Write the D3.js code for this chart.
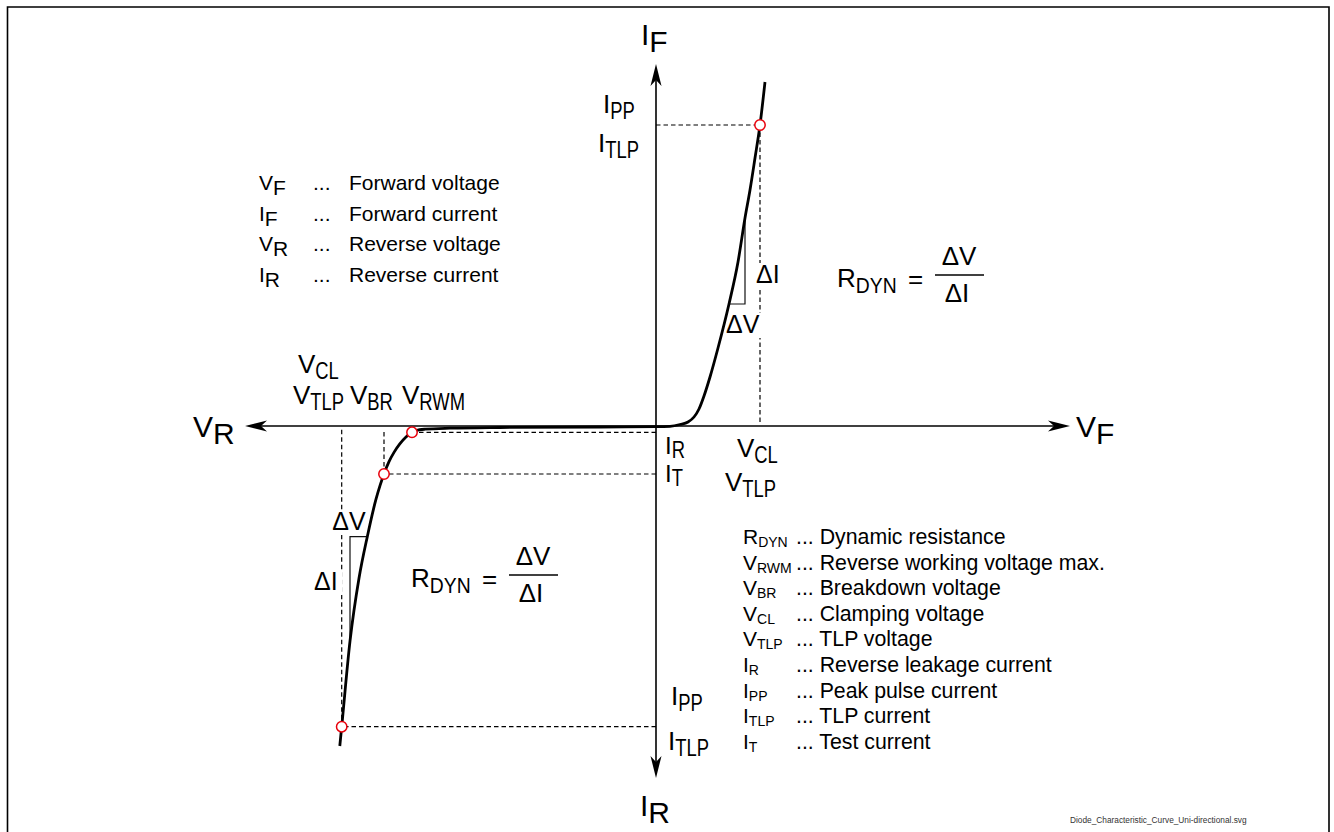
<!DOCTYPE html>
<html><head><meta charset="utf-8">
<script src="https://cdn.jsdelivr.net/npm/d3@7"></script>
<style>html,body{margin:0;padding:0;background:#fff;} svg{display:block;font-family:"Liberation Sans",Arial,Helvetica,sans-serif;}</style>
</head><body><svg id="chart" width="1334" height="832"></svg>
<script>
// ---------- data ----------
const axisV = [-41.1, 41.4];      // voltage axis extent (VR .. VF)
const axisI = [-35.2, 36.2];      // current axis extent (IR .. IF)
const curveV = [-31.62,-31.43,-30.6,-29.7,-28.87,-28.0,-27.6,-27.2,-26.7,-26.2,-25.6,-25.0,-24.4,-24.0,-23.1,-20.6,-15.6,-5.6,0,1.4,2.4,3.2,3.8,4.3,4.8,5.4,6.2,7.3,8.2,8.9,9.4,9.9,10.4,10.9];
const curveI = [-32.0,-30.07,-21.52,-15.22,-11.07,-7.32,-5.96,-4.8,-3.57,-2.64,-1.77,-1.11,-0.63,-0.45,-0.32,-0.22,-0.15,-0.1,-0.07,-0.03,0.15,0.4,0.9,1.7,3.0,4.9,7.8,12.2,16.4,20.8,23.6,26.8,30.1,34.4];
const markerNames = ["IPP/VCL fwd","VRWM","VBR","VCL"];
const markerV = [10.4, -24.4, -27.2, -31.43];
const markerI = [30.1, -0.63, -4.8, -30.07];
const markerVGuide = [true, false, true, true];
const triFwdV = [7.3, 8.9], triFwdI = [12.2, 20.8];
const triRevV = [-28.87, -30.6], triRevI = [-11.07, -21.52];
const legend1Sym = ["V","I","V","I"];
const legend1Sub = ["F","F","R","R"];
const legend1Text = ["Forward voltage","Forward current","Reverse voltage","Reverse current"];
const legend2Sym = ["R","V","V","V","V","I","I","I","I"];
const legend2Sub = ["DYN","RWM","BR","CL","TLP","R","PP","TLP","T"];
const legend2Text = ["Dynamic resistance","Reverse working voltage max.","Breakdown voltage","Clamping voltage","TLP voltage","Reverse leakage current","Peak pulse current","TLP current","Test current"];
const footer = "Diode_Characteristic_Curve_Uni-directional.svg";

// ---------- setup ----------
const svg = d3.select("#chart");
const x = d3.scaleLinear().domain(axisV).range([245, 1070]);
const y = d3.scaleLinear().domain(axisI).range([778, 64]);

// frame
svg.append("path").attr("d","M7.5,845 V7 H1329 V845").attr("fill","none").attr("stroke","#000").attr("stroke-width",1.6);

function sym(g, px, py, main, sub, o) {
  const t = g.append("text").attr("x", px).attr("y", py).attr("font-size", o.size).attr("fill","#000").text(main);
  const w = t.node().getComputedTextLength();
  g.append("text").attr("transform", `translate(${px + w + (o.gap||0)},${py + o.dy}) scale(${o.sx},1)`)
    .attr("font-size", o.subSize).attr("fill","#000").text(sub);
}

// ---------- dashed guides ----------
const guides = svg.append("g").attr("stroke","#000").attr("stroke-width",1.2).attr("stroke-dasharray","4.5,3").attr("fill","none");
markerV.forEach((v,i) => {
  guides.append("line").attr("x1", x(0)).attr("x2", x(v)).attr("y1", y(markerI[i])).attr("y2", y(markerI[i]));
  if (markerVGuide[i]) guides.append("line").attr("x1", x(v)).attr("x2", x(v)).attr("y1", y(markerI[i])).attr("y2", y(0) + (markerI[i] > 0 ? -3 : 3));
});

// ---------- axes ----------
const axes = svg.append("g");
axes.append("line").attr("x1", x(axisV[0])+4).attr("x2", x(axisV[1])-4).attr("y1", y(0)).attr("y2", y(0)).attr("stroke","#000").attr("stroke-width",1.6);
axes.append("line").attr("x1", x(0)).attr("x2", x(0)).attr("y1", y(axisI[0])-4).attr("y2", y(axisI[1])+4).attr("stroke","#000").attr("stroke-width",1.6);
function arrow(tx, ty, dx, dy) {
  const len = 22, hw = 5.5, notch = 16, px = -dy, py = dx;
  const bx = tx - dx*len, by = ty - dy*len;
  const pts = [[tx,ty],[bx+px*hw, by+py*hw],[tx-dx*notch, ty-dy*notch],[bx-px*hw, by-py*hw]];
  axes.append("path").attr("d", "M" + pts.map(p=>p.join(",")).join("L") + "Z").attr("fill","#000");
}
arrow(x(axisV[0]), y(0), -1, 0);
arrow(x(axisV[1]), y(0), 1, 0);
arrow(x(0), y(axisI[1]), 0, -1);
arrow(x(0), y(axisI[0]), 0, 1);

// ---------- triangles ----------
const tri = svg.append("g").attr("stroke","#111").attr("stroke-width",1.2).attr("fill","none");
[[triFwdV, triFwdI],[triRevV, triRevI]].forEach(([tv, ti]) => {
  tri.append("path").attr("d", `M${x(tv[1])},${y(ti[1])} L${x(tv[1])},${y(ti[0])} L${x(tv[0])},${y(ti[0])}`);
});

// ---------- labels ----------
const L = svg.append("g");
const big = {size:30, subSize:30, dy:7, sx:1};
sym(L, x(0)-15, 45, "I", "F", big);
sym(L, 193, 437, "V", "R", big);
sym(L, 1076, 437, "V", "F", big);
sym(L, x(0)-16, 816, "I", "R", big);

const med = {size:26, subSize:23, dy:6, sx:0.8};
sym(L, 603, 113, "I", "PP", med);
sym(L, 598, 152, "I", "TLP", med);
sym(L, 298, 373, "V", "CL", med);
sym(L, 293, 404, "V", "TLP", med);
sym(L, 350, 404, "V", "BR", med);
sym(L, 402, 404, "V", "RWM", med);
sym(L, 665, 454, "I", "R", {size:24, subSize:23, dy:4, sx:0.8});
sym(L, 665, 482, "I", "T", {size:24, subSize:23, dy:4, sx:0.8});
sym(L, 737, 457, "V", "CL", med);
sym(L, 725, 491, "V", "TLP", med);
sym(L, 671, 705, "I", "PP", med);
sym(L, 668, 750, "I", "TLP", med);

// delta labels with white background
function dlabel(px, py, txt) {
  const g = L.append("g");
  const r = g.append("rect").attr("fill","#fff");
  const t = g.append("text").attr("x", px).attr("y", py).attr("font-size", 25).text(txt);
  const b = t.node().getBBox();
  r.attr("x", b.x-1).attr("y", b.y+3).attr("width", b.width+6).attr("height", b.height-3);
}
dlabel(x(triFwdV[1])+11, 283, "ΔI");
dlabel(x(triFwdV[0])-3, 333, "ΔV");
dlabel(x(triRevV[0])-35, 530, "ΔV");
dlabel(x(triRevV[1])-36, 590, "ΔI");

// R_DYN formulas
function formula(px, py) {
  sym(L, px, py, "R", "DYN", {size:26, subSize:22, dy:6, sx:0.88});
  L.append("text").attr("x", px+71).attr("y", py+1).attr("font-size", 26).text("=");
  L.append("line").attr("x1", px+98).attr("x2", px+147).attr("y1", py-12).attr("y2", py-12).attr("stroke","#000").attr("stroke-width",1.3);
  L.append("text").attr("x", px+122).attr("y", py-22).attr("text-anchor","middle").attr("font-size", 26).text("ΔV");
  L.append("text").attr("x", px+120).attr("y", py+15).attr("text-anchor","middle").attr("font-size", 26).text("ΔI");
}
formula(837, 287);
formula(411, 587);

// legend top-left
legend1Sym.forEach((s,i) => {
  const by = 190 + i*30.5;
  sym(L, 259, by, s, legend1Sub[i], {size:21, subSize:21, dy:5, sx:1});
  L.append("text").attr("x", 313).attr("y", by).attr("font-size", 21).text("...");
  L.append("text").attr("x", 349).attr("y", by).attr("font-size", 21).text(legend1Text[i]);
});
// legend bottom-right
legend2Sym.forEach((s,i) => {
  const by = 544 + i*25.6;
  sym(L, 743, by, s, legend2Sub[i], {size:21, subSize:14, dy:3, sx:1});
  L.append("text").attr("x", 796).attr("y", by).attr("font-size", 21.3).text("... " + legend2Text[i]);
});

L.append("text").attr("x", 1070).attr("y", 823).attr("font-size", 8.3).attr("fill","#333").text(footer);

// ---------- curve ----------
const pts = curveV.map((v,i) => [v, curveI[i]]);
svg.append("path").datum(pts)
  .attr("d", d3.line().x(d=>x(d[0])).y(d=>y(d[1])).curve(d3.curveMonotoneX))
  .attr("fill","none").attr("stroke","#000").attr("stroke-width",2.8).attr("stroke-linejoin","round");

// ---------- markers ----------
svg.append("g").selectAll("circle").data(markerV).join("circle")
  .attr("cx", d=>x(d)).attr("cy", (d,i)=>y(markerI[i])).attr("r", 5.2)
  .attr("fill","#fff").attr("stroke","#e8000b").attr("stroke-width",1.5);
</script></body></html>
